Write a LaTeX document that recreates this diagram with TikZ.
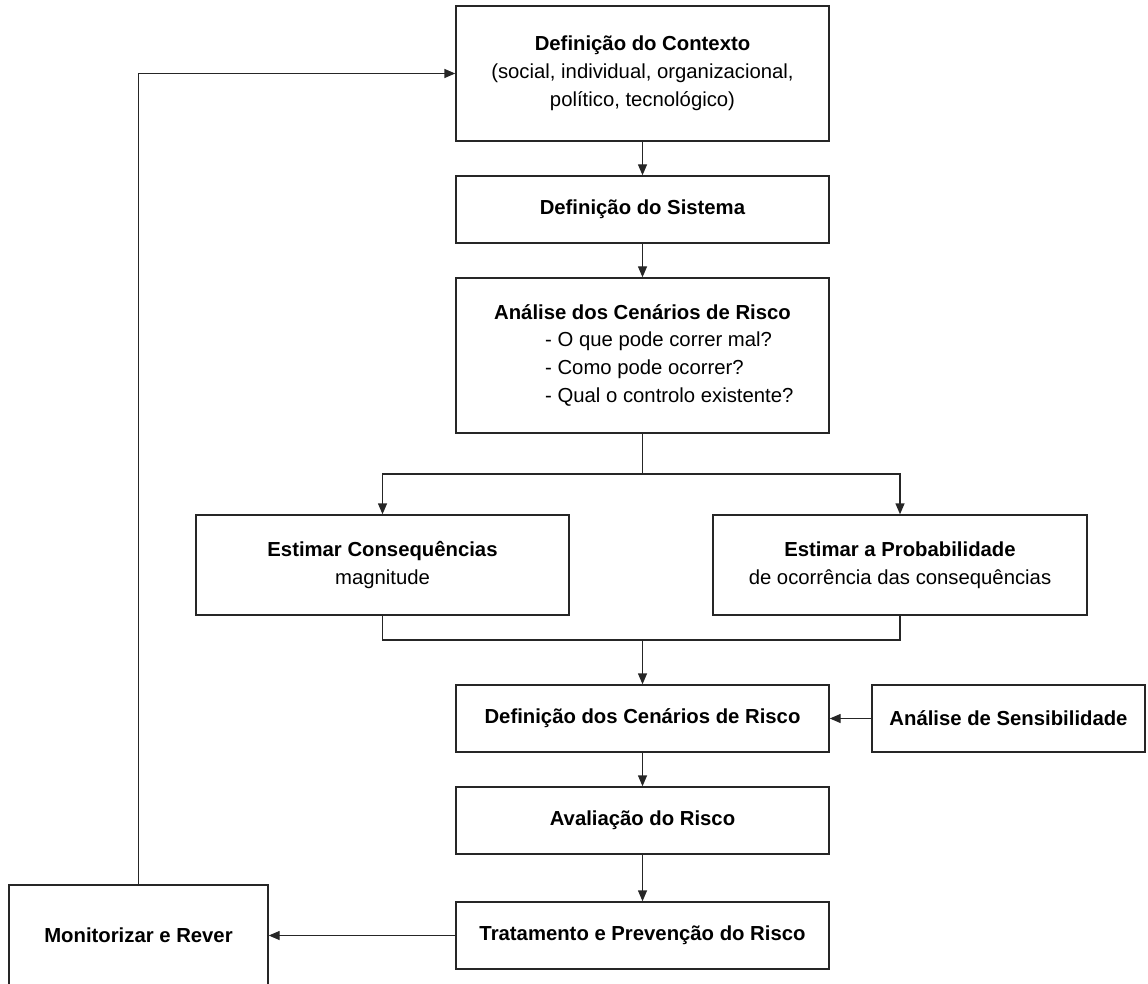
\documentclass[tikz,border=0pt]{standalone}
\usepackage{fontspec}
\setmainfont{Liberation Sans}
\usetikzlibrary{arrows.meta}
\begin{document}
\begin{tikzpicture}[x=1pt,y=-1pt,
  box/.style={draw=black!85, line width=1.4pt, rectangle, inner sep=0pt, align=center, font=\fontsize{20.3}{28}\selectfont},
  txt/.style={inner sep=0pt, font=\fontsize{20.3}{28}\selectfont},
  arr/.style={line width=1.4pt, draw=black!85, -{Triangle[length=11pt,width=9pt]}},
  ln/.style={line width=1.4pt, draw=black!85}]
\useasboundingbox (0,0) rectangle (1148,984);
\node[box, minimum width=373pt, minimum height=135pt] (ctx) at (642.5,73.5) {\textbf{Definição do Contexto}\\(social, individual, organizacional,\\político, tecnológico)};
\node[box, minimum width=373pt, minimum height=67pt] (sys) at (642.5,209.5) {\textbf{Definição do Sistema}};
\node[box, minimum width=373pt, minimum height=155pt] (ana) at (642.5,355.5) {};
\node[txt, font=\fontsize{20.3}{28}\selectfont\bfseries] (anat) at (642.5,312) {Análise dos Cenários de Risco};
\node[txt, anchor=west, align=left] (anal) at (545,369) {- O que pode correr mal?\\- Como pode ocorrer?\\- Qual o controlo existente?};
\node[box, minimum width=373pt, minimum height=100pt] (cons) at (382.5,565) {\textbf{Estimar Consequências}\\magnitude};
\node[box, minimum width=374pt, minimum height=100pt] (prob) at (900,565) {\textbf{Estimar a Probabilidade}\\de ocorrência das consequências};
\node[box, minimum width=373pt, minimum height=67pt] (def) at (642.5,718.5) {\textbf{Definição dos Cenários de Risco}};
\node[box, minimum width=273pt, minimum height=67pt] (sens) at (1008.5,718.5) {\textbf{Análise de Sensibilidade}};
\node[box, minimum width=373pt, minimum height=67pt] (aval) at (642.5,820.5) {\textbf{Avaliação do Risco}};
\node[box, minimum width=373pt, minimum height=67pt] (trat) at (642.5,935.5) {\textbf{Tratamento e Prevenção do Risco}};
\node[box, minimum width=259pt, minimum height=101pt] (mon) at (138.5,935.5) {\textbf{Monitorizar e Rever}};
\coordinate (j1) at (642.5,474);
\coordinate (j2) at (642.5,640);
\draw[arr] (ctx.south) -- (sys.north);
\draw[arr] (sys.south) -- (ana.north);
\draw[ln] (ana.south) -- (j1);
\draw[arr] (j1) -| (cons.north);
\draw[arr] (j1) -| (prob.north);
\draw[ln] (cons.south) |- (j2);
\draw[ln] (prob.south) |- (j2);
\draw[arr] (j2) -- (def.north);
\draw[arr] (sens.west) -- (def.east);
\draw[arr] (def.south) -- (aval.north);
\draw[arr] (aval.south) -- (trat.north);
\draw[arr] (trat.west) -- (mon.east);
\draw[arr] (mon.north) |- (ctx.west);
\end{tikzpicture}
\end{document}
